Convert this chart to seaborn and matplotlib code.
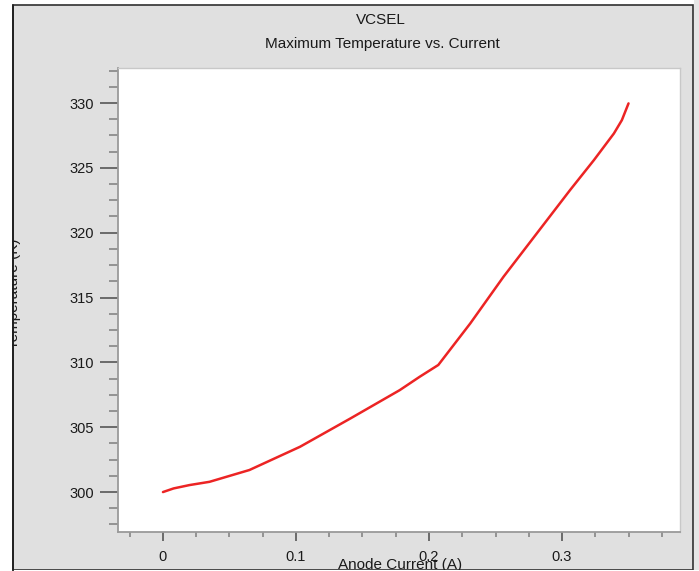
import numpy as np
import pandas as pd
import matplotlib
matplotlib.use("Agg")
import matplotlib.pyplot as plt
from matplotlib.patches import Rectangle
from matplotlib.ticker import MultipleLocator
import seaborn as sns

# ── Data ───────────────────────────────────────────
current = [0.000, 0.008, 0.020, 0.035, 0.065, 0.103, 0.141, 0.178, 0.193,
           0.207, 0.231, 0.256, 0.281, 0.306, 0.324, 0.339, 0.345, 0.350]
temperature = [300.00, 300.28, 300.54, 300.79, 301.70, 303.49, 305.68,
               307.86, 308.89, 309.80, 313.00, 316.60, 319.94, 323.28,
               325.60, 327.65, 328.68, 329.97]
x_ticks = [0, 0.1, 0.2, 0.3]
x_tick_labels = ["0", "0.1", "0.2", "0.3"]
y_ticks = [300, 305, 310, 315, 320, 325, 330]

df = pd.DataFrame({"current": current, "temperature": temperature})

sns.set_style("white")
plt.rcParams["font.family"] = ["Liberation Sans", "DejaVu Sans"]

W, H = 699, 571
BG = "#e0e0e0"
TXT = "#1a1a1a"
fig = plt.figure(figsize=(W / 100, H / 100), dpi=100, facecolor="white")

def px(x0, y0, x1, y1):
    # pixel box -> figure fraction rect
    return [x0 / W, 1 - y1 / H, (x1 - x0) / W, (y1 - y0) / H]

# grey panel with border
fig.add_artist(Rectangle((13 / W, 1 - 570 / H), (693 - 13) / W, (570 - 5) / H,
                         transform=fig.transFigure, facecolor=BG,
                         edgecolor="#303030", linewidth=1.2, zorder=-2))
fig.add_artist(Rectangle((693.5 / W, 0), (W - 693.5) / W, 1,
                         transform=fig.transFigure, facecolor="#e6e6e6",
                         edgecolor="none", zorder=-2))

ax = fig.add_axes(px(118, 68, 680, 532))
ax.set_facecolor("white")

sns.lineplot(data=df, x="current", y="temperature", ax=ax,
             color="#ec2424", linewidth=1.8, sort=True)

ax.set_xlim(-0.0338, 0.3887)
ax.set_ylim(296.92, 332.7)
ax.set_xticks(x_ticks)
ax.set_xticklabels(x_tick_labels)
ax.set_yticks(y_ticks)
ax.xaxis.set_minor_locator(MultipleLocator(0.025))
ax.yaxis.set_minor_locator(MultipleLocator(1.25))
ax.set_xlabel("")
ax.set_ylabel("")

ax.tick_params(axis="y", which="major", direction="out", length=13,
               width=1.4, color="#6a6a6a", labelsize=10.5,
               labelcolor=TXT, pad=4.5, left=True)
ax.tick_params(axis="y", which="minor", direction="out", length=6.7,
               width=1.2, color="#858585", left=True)
ax.tick_params(axis="x", which="major", direction="out", length=6.5,
               width=1.4, color="#6a6a6a", labelsize=10.5,
               labelcolor=TXT, pad=6.5, bottom=True)
ax.tick_params(axis="x", which="minor", direction="out", length=3.6,
               width=1.2, color="#858585", bottom=True)

for side in ["left", "bottom"]:
    ax.spines[side].set_color("#9a9a9a")
    ax.spines[side].set_linewidth(1.3)
for side in ["top", "right"]:
    ax.spines[side].set_color("#c8c8c8")
    ax.spines[side].set_linewidth(1.0)

# titles and labels
fig.text(381 / W, 1 - 20 / H, "VCSEL", ha="center", va="center",
         fontsize=11, color=TXT)
fig.text(382 / W, 1 - 44 / H, "Maximum Temperature vs. Current",
         ha="center", va="center", fontsize=11, color=TXT)
fig.text(400 / W, 1 - 565 / H, "Anode Current (A)", ha="center",
         va="center", fontsize=11, color=TXT)
fig.text(14 / W, 1 - 294 / H, "Temperature (K)", ha="center",
         va="center", rotation=90, fontsize=11, color=TXT)

# white margin covering clipped label parts
fig.add_artist(Rectangle((0, 0), 12.4 / W, 1, transform=fig.transFigure,
                         facecolor="white", edgecolor="none", zorder=5))
fig.add_artist(Rectangle((0, 0), 1, 0.8 / H, transform=fig.transFigure,
                         facecolor="white", edgecolor="none", zorder=5))
fig.add_artist(plt.Line2D([13 / W, 13 / W], [0, 1 - 5 / H],
                          transform=fig.transFigure, color="#202020",
                          linewidth=1.3, zorder=6))

fig.savefig("out.png", dpi=100, facecolor=fig.get_facecolor())
plt.close(fig)
